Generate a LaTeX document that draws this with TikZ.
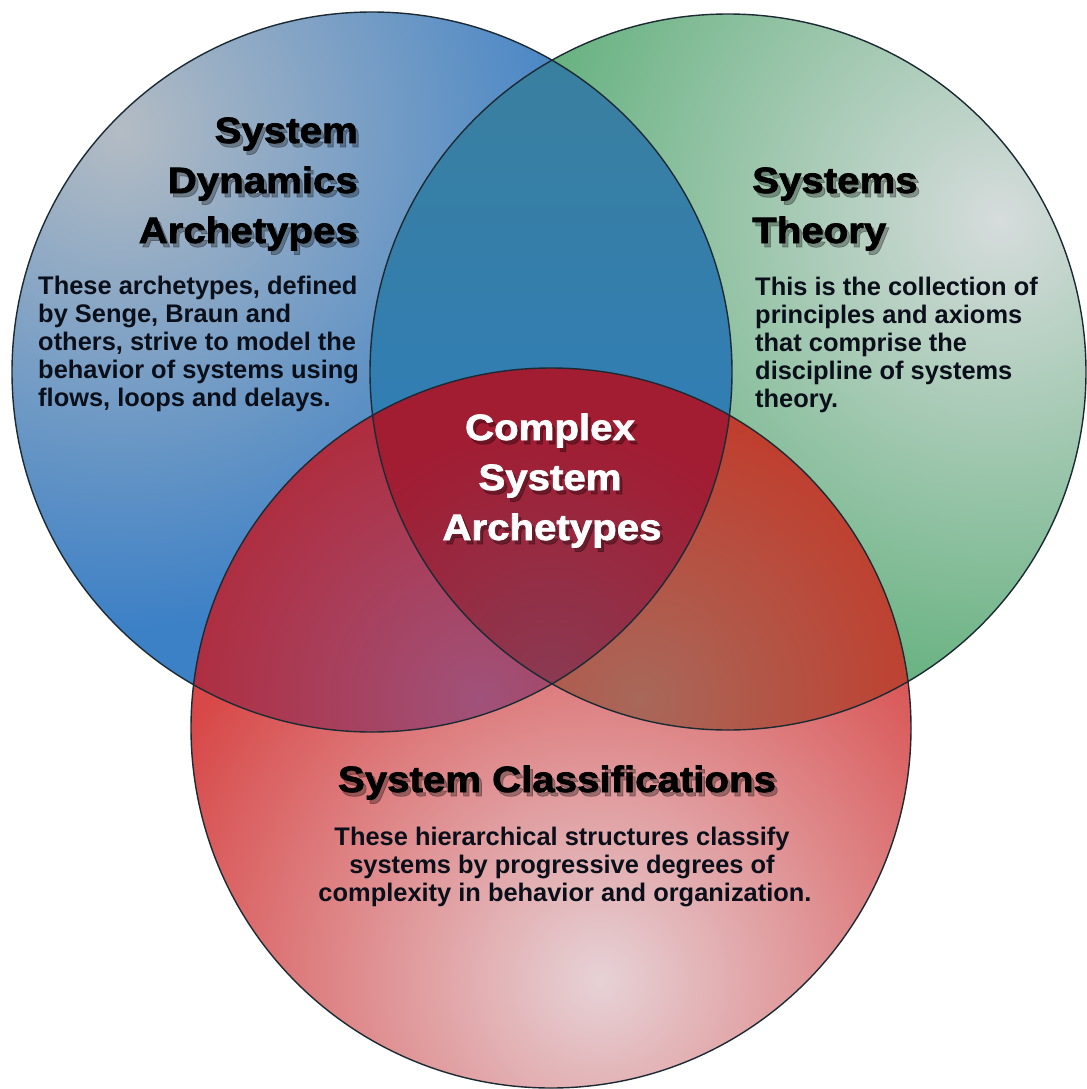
\documentclass[tikz,border=0pt]{standalone}
\usepackage{fontspec}
\setmainfont{Liberation Sans}
\newfontfamily\ttlfont{Liberation Sans}[UprightFont={* Bold},FakeStretch=1.1,FakeBold=2]
\definecolor{bluefar}{HTML}{3C80C6}
\definecolor{bluenear}{HTML}{B4BCC4}
\definecolor{greenfar}{HTML}{62B07C}
\definecolor{greennear}{HTML}{D6DCDC}
\definecolor{redfar}{HTML}{D84848}
\definecolor{rednear}{HTML}{E6D2D6}
\definecolor{bgtop}{HTML}{3A7F9E}
\definecolor{bgbot}{HTML}{2A7DC4}
\definecolor{brfar}{HTML}{B02A3A}
\definecolor{brnear}{HTML}{A0527A}
\definecolor{grfar}{HTML}{C23A2A}
\definecolor{grnear}{HTML}{A8685A}
\definecolor{ctrfar}{HTML}{A21C32}
\definecolor{ctrnear}{HTML}{8A3A52}
\definecolor{rim}{HTML}{1C2B33}
\definecolor{txtdark}{HTML}{0A0F1A}
\tikzset{
  ttl/.style={font=\ttlfont\fontsize{31.2}{36}\selectfont, inner sep=0pt, text=black},
  ctrttl/.style={ttl, text=white},
  body/.style={font=\bfseries\fontsize{21.7}{26}\selectfont, inner sep=0pt, text=txtdark},
  shd/.style={text=black, opacity=0.3, text opacity=0.3},
  rimline/.style={draw=rim, line width=1.2pt},
}
\newcommand\shtext[6]{%
  \node[#2,shd,anchor=#5] at (#3+3,#4+4) {#6};
  \node[#2,anchor=#5] (#1) at (#3,#4) {#6};}
\begin{document}
\begin{tikzpicture}[x=0.03cm,y=-0.03cm]
\useasboundingbox (0,0) rectangle (1086,1089);
\fill[white] (0,0) rectangle (1086,1089);
\coordinate (cb) at (372,372);
\coordinate (cg) at (728,372);
\coordinate (cr) at (551,728);
% blue circle
\begin{scope}
  \clip (cb) circle (360);
  \fill[bluefar] (cb) circle (360);
  \shade[inner color=bluenear, outer color=bluefar] (120,130) circle (500);
\end{scope}
% green circle
\begin{scope}
  \clip (cg) circle (358);
  \fill[greenfar] (cg) circle (358);
  \shade[inner color=greennear, outer color=greenfar] (1000,220) circle (500);
\end{scope}
% red circle
\begin{scope}
  \clip (cr) circle (360);
  \fill[redfar] (cr) circle (360);
  \shade[inner color=rednear, outer color=redfar] (600,980) circle (480);
\end{scope}
% blue & green
\begin{scope}
  \clip (cb) circle (360);
  \clip (cg) circle (358);
  \shade[top color=bgtop, bottom color=bgbot] (360,40) rectangle (740,700);
\end{scope}
% blue & red
\begin{scope}
  \clip (cb) circle (360);
  \clip (cr) circle (360);
  \fill[brfar] (cr) circle (360);
  \shade[inner color=brnear, outer color=brfar] (480,700) circle (320);
\end{scope}
% green & red
\begin{scope}
  \clip (cg) circle (358);
  \clip (cr) circle (360);
  \fill[grfar] (cr) circle (360);
  \shade[inner color=grnear, outer color=grfar] (640,700) circle (320);
\end{scope}
% centre
\begin{scope}
  \clip (cb) circle (360);
  \clip (cg) circle (358);
  \clip (cr) circle (360);
  \fill[ctrfar] (cr) circle (360);
  \shade[inner color=ctrnear, outer color=ctrfar] (551,680) circle (260);
\end{scope}
% outlines
\draw[rimline] (cb) circle (360);
\draw[rimline] (cg) circle (358);
\draw[rimline] (cr) circle (360);
% System Dynamics Archetypes
\shtext{sda1}{ttl}{358}{143}{base east}{System}
\shtext{sda2}{ttl}{358}{193}{base east}{Dynamics}
\shtext{sda3}{ttl}{358}{243}{base east}{Archetypes}
\node[body,anchor=base west] (sdb1) at (38,294) {These archetypes, defined};
\node[body,anchor=base west] (sdb2) at (38,322) {by Senge, Braun and};
\node[body,anchor=base west] (sdb3) at (38,350) {others, strive to model the};
\node[body,anchor=base west] (sdb4) at (38,378) {behavior of systems using};
\node[body,anchor=base west] (sdb5) at (38,406) {flows, loops and delays.};
% Systems Theory
\shtext{st1}{ttl}{752}{193}{base west}{Systems}
\shtext{st2}{ttl}{752}{243}{base west}{Theory}
\node[body,anchor=base west] (stb1) at (755,295) {This is the collection of};
\node[body,anchor=base west] (stb2) at (755,323) {principles and axioms};
\node[body,anchor=base west] (stb3) at (755,351) {that comprise the};
\node[body,anchor=base west] (stb4) at (755,379) {discipline of systems};
\node[body,anchor=base west] (stb5) at (755,407) {theory.};
% Complex System Archetypes
\shtext{csa1}{ctrttl}{550}{440}{base}{Complex}
\shtext{csa2}{ctrttl}{550}{490}{base}{System}
\shtext{csa3}{ctrttl}{552}{540}{base}{Archetypes}
% System Classifications
\shtext{sc}{ttl}{557}{792}{base}{System Classifications}
\node[body,anchor=base] (scb1) at (562,845) {These hierarchical structures classify};
\node[body,anchor=base] (scb2) at (562,873) {systems by progressive degrees of};
\node[body,anchor=base] (scb3) at (565,901) {complexity in behavior and organization.};
\end{tikzpicture}
\end{document}
